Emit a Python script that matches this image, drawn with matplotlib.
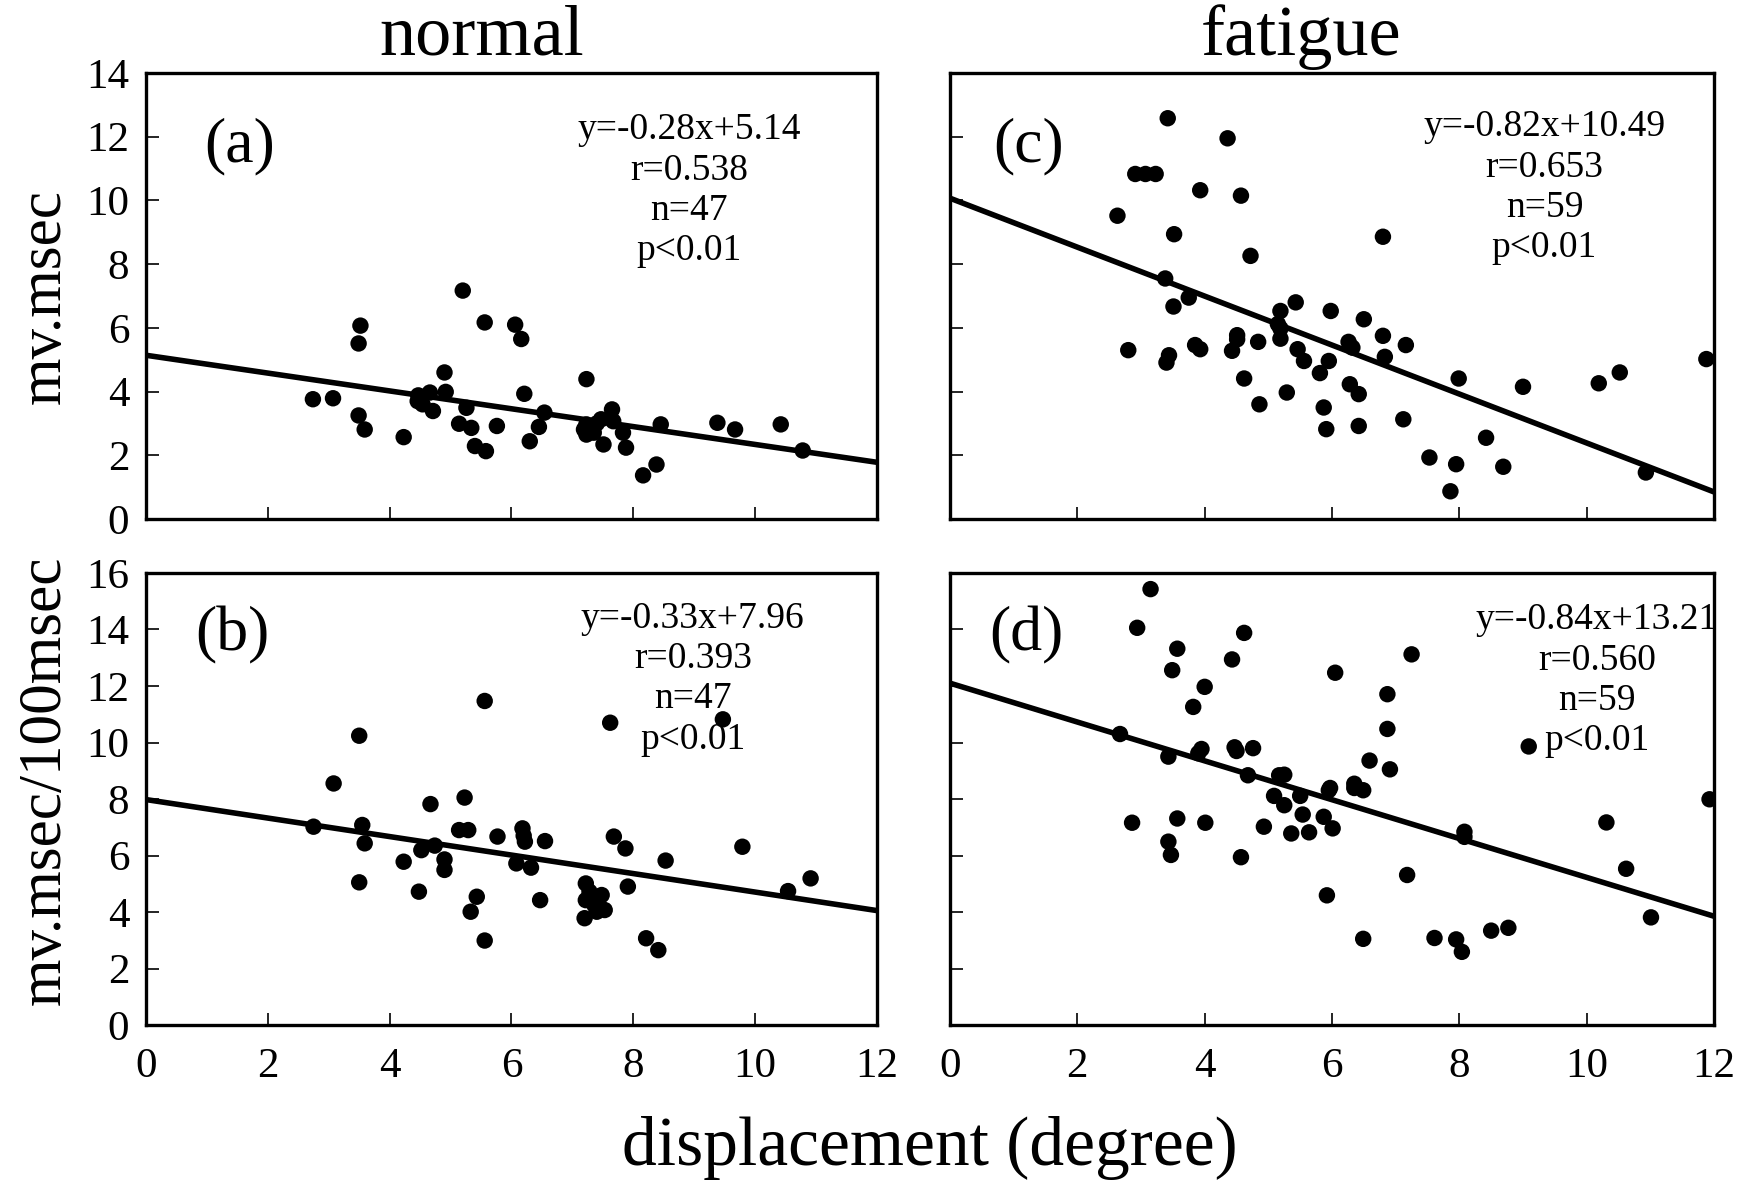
import matplotlib
matplotlib.use('Agg')
import matplotlib.pyplot as plt

plt.rcParams['font.family'] = ['Liberation Serif', 'DejaVu Serif']

# (a) normal, mv.msec
a_x = [2.74, 3.07, 3.52, 3.49, 3.49, 3.59, 4.23, 4.47, 4.54, 4.66, 4.71, 4.90, 4.92, 5.20,
       5.26, 5.14, 5.34, 5.40, 5.58, 5.56, 5.76, 6.06, 6.16, 6.21, 6.30, 6.45, 6.54, 7.23,
       7.19, 7.23, 7.35, 7.47, 7.51, 7.65, 7.67, 7.83, 7.88, 8.16, 8.38, 8.45, 9.38, 9.67,
       10.42, 10.78, 4.46, 7.23, 7.40]
a_y = [3.76, 3.79, 6.07, 5.51, 3.25, 2.81, 2.57, 3.88, 3.60, 3.97, 3.39, 4.60, 3.99, 7.17,
       3.49, 2.99, 2.86, 2.29, 2.13, 6.17, 2.92, 6.10, 5.65, 3.93, 2.44, 2.89, 3.34, 4.39,
       2.81, 2.65, 2.71, 3.13, 2.34, 3.44, 3.07, 2.71, 2.24, 1.37, 1.71, 2.97, 3.02, 2.81,
       2.97, 2.15, 3.70, 2.97, 3.00]

# (b) normal, mv.msec/100msec
b_x = [5.56, 7.62, 9.47, 3.50, 3.08, 4.67, 5.23, 2.75, 3.55, 3.59, 5.14, 5.29, 5.77, 6.18,
       6.22, 6.55, 7.68, 7.87, 9.79, 4.52, 4.74, 4.23, 4.90, 4.90, 6.08, 6.32, 8.53, 3.50,
       4.48, 5.43, 5.33, 6.47, 7.22, 7.22, 7.48, 7.36, 7.53, 7.20, 7.91, 8.21, 8.41, 5.56,
       10.54, 10.91, 7.28, 7.40, 6.20]
b_y = [11.47, 10.70, 10.82, 10.24, 8.55, 7.82, 8.05, 7.02, 7.08, 6.43, 6.90, 6.90, 6.67, 6.96,
       6.49, 6.51, 6.67, 6.25, 6.31, 6.19, 6.35, 5.78, 5.86, 5.49, 5.72, 5.57, 5.82, 5.05,
       4.72, 4.54, 4.01, 4.42, 5.01, 4.42, 4.60, 4.25, 4.07, 3.78, 4.90, 3.07, 2.65, 2.99,
       4.74, 5.19, 4.72, 4.01, 6.70]

# (c) fatigue, mv.msec
c_x = [3.42, 4.36, 2.91, 3.07, 3.23, 3.93, 4.57, 2.63, 3.52, 6.80, 4.72, 3.38, 3.75, 3.51,
       5.19, 5.43, 5.98, 6.50, 5.19, 4.51, 4.84, 5.19, 6.26, 6.80, 6.83, 7.16, 2.80, 3.85,
       3.93, 4.43, 3.40, 3.44, 5.46, 5.56, 5.95, 5.81, 4.62, 5.29, 4.86, 6.28, 6.42, 5.87,
       5.91, 6.42, 7.12, 7.99, 9.00, 10.19, 10.52, 11.88, 8.42, 7.53, 7.95, 8.69, 7.86, 10.93,
       4.51, 5.15, 6.32]
c_y = [12.58, 11.95, 10.83, 10.83, 10.83, 10.32, 10.15, 9.52, 8.94, 8.86, 8.26, 7.55, 6.95, 6.67,
       6.53, 6.80, 6.53, 6.27, 5.98, 5.77, 5.56, 5.66, 5.56, 5.75, 5.09, 5.46, 5.30, 5.46,
       5.33, 5.28, 4.91, 5.14, 5.33, 4.96, 4.96, 4.58, 4.41, 3.97, 3.60, 4.23, 3.92, 3.50,
       2.82, 2.92, 3.13, 4.41, 4.15, 4.26, 4.60, 5.02, 2.55, 1.93, 1.72, 1.64, 0.87, 1.46,
       5.64, 6.12, 5.38]

# (d) fatigue, mv.msec/100msec
d_x = [3.15, 2.94, 4.62, 3.57, 4.43, 7.25, 3.49, 6.05, 4.00, 3.82, 6.87, 6.87, 2.67, 4.47,
       4.76, 9.09, 3.43, 3.90, 6.59, 6.91, 4.68, 5.25, 5.97, 6.35, 6.49, 5.09, 5.50, 5.25,
       5.54, 5.87, 6.01, 4.93, 5.36, 5.64, 2.86, 3.57, 4.01, 8.08, 10.31, 11.93, 3.43, 3.47,
       4.57, 7.18, 10.62, 5.92, 11.01, 6.49, 7.61, 7.95, 8.04, 8.50, 8.77, 6.35, 5.17, 3.95,
       8.08, 5.95, 4.50]
d_y = [15.43, 14.06, 13.88, 13.32, 12.94, 13.12, 12.56, 12.47, 11.97, 11.26, 11.71, 10.48, 10.30, 9.83,
       9.80, 9.86, 9.50, 9.62, 9.36, 9.05, 8.84, 8.86, 8.39, 8.39, 8.31, 8.11, 8.11, 7.78,
       7.45, 7.37, 6.96, 7.02, 6.78, 6.82, 7.16, 7.31, 7.16, 6.66, 7.17, 7.99, 6.49, 6.02,
       5.94, 5.31, 5.53, 4.59, 3.81, 3.05, 3.08, 3.03, 2.59, 3.34, 3.44, 8.54, 8.84, 9.77,
       6.84, 8.31, 9.70]

# regression lines as drawn (value at x=0 and x=12)
fit_x = [0, 12]
a_fit = [5.14, 1.78]
b_fit = [7.98, 4.05]
c_fit = [10.07, 0.85]
d_fit = [12.10, 3.85]

a_stats = ['y=-0.28x+5.14', 'r=0.538', 'n=47', 'p<0.01']
b_stats = ['y=-0.33x+7.96', 'r=0.393', 'n=47', 'p<0.01']
c_stats = ['y=-0.82x+10.49', 'r=0.653', 'n=59', 'p<0.01']
d_stats = ['y=-0.84x+13.21', 'r=0.560', 'n=59', 'p<0.01']

x_ticks = [0, 2, 4, 6, 8, 10, 12]
top_yticks = [0, 2, 4, 6, 8, 10, 12, 14]
bot_yticks = [0, 2, 4, 6, 8, 10, 12, 14, 16]

W, H = 1756, 1185
fig = plt.figure(figsize=(W / 100, H / 100), dpi=100)
fig.patch.set_facecolor('white')

def box(x0, y0, x1, y1):
    return [x0 / W, 1 - y1 / H, (x1 - x0) / W, (y1 - y0) / H]

ax_a = fig.add_axes(box(146, 73, 877, 519))
ax_c = fig.add_axes(box(950, 73, 1714, 519))
ax_b = fig.add_axes(box(146, 573, 877, 1025))
ax_d = fig.add_axes(box(950, 573, 1714, 1025))

panels = [
    (ax_a, a_x, a_y, a_fit, a_stats, '(a)', top_yticks, (0.128, 0.836), (0.743, 0.736), True, False),
    (ax_c, c_x, c_y, c_fit, c_stats, '(c)', top_yticks, (0.103, 0.836), (0.778, 0.743), False, False),
    (ax_b, b_x, b_y, b_fit, b_stats, '(b)', bot_yticks, (0.118, 0.862), (0.748, 0.766), True, True),
    (ax_d, d_x, d_y, d_fit, d_stats, '(d)', bot_yticks, (0.100, 0.862), (0.847, 0.762), False, True),
]

for ax, xs, ys, fit, stats, tag, yt, tag_pos, st_pos, ylab, xlab in panels:
    ax.scatter(xs, ys, s=140, color='black', edgecolors='none', zorder=3)
    ax.plot(fit_x, fit, color='black', lw=4.0, zorder=2, solid_capstyle='butt')
    ax.set_xlim(0, 12)
    ax.set_ylim(0, yt[-1])
    ax.set_xticks(x_ticks)
    ax.set_yticks(yt)
    ax.tick_params(direction='in', length=9, width=1.2, labelsize=31,
                   labelleft=ylab, labelbottom=xlab)
    ax.tick_params(axis='x', pad=16)
    ax.tick_params(axis='y', pad=12)
    for sp in ax.spines.values():
        sp.set_linewidth(2.4)
    ax.text(tag_pos[0], tag_pos[1], tag, transform=ax.transAxes, fontsize=46,
            ha='center', va='center')
    ax.text(st_pos[0], st_pos[1], '\n'.join(stats), transform=ax.transAxes, fontsize=27,
            ha='center', va='center', multialignment='center', linespacing=1.22)

fig.text(482 / W, 1 - 37 / H, 'normal', fontsize=52, ha='center', va='center')
fig.text(1301 / W, 1 - 37 / H, 'fatigue', fontsize=52, ha='center', va='center')
fig.text(45 / W, 1 - 297 / H, 'mv.msec', fontsize=44, rotation=90, ha='center', va='center')
fig.text(45 / W, 1 - 780 / H, 'mv.msec/100msec', fontsize=44, rotation=90, ha='center', va='center')
fig.text(930 / W, 1 - 1148 / H, 'displacement (degree)', fontsize=50, ha='center', va='center')

fig.savefig('out.png', dpi=100, facecolor='white')
